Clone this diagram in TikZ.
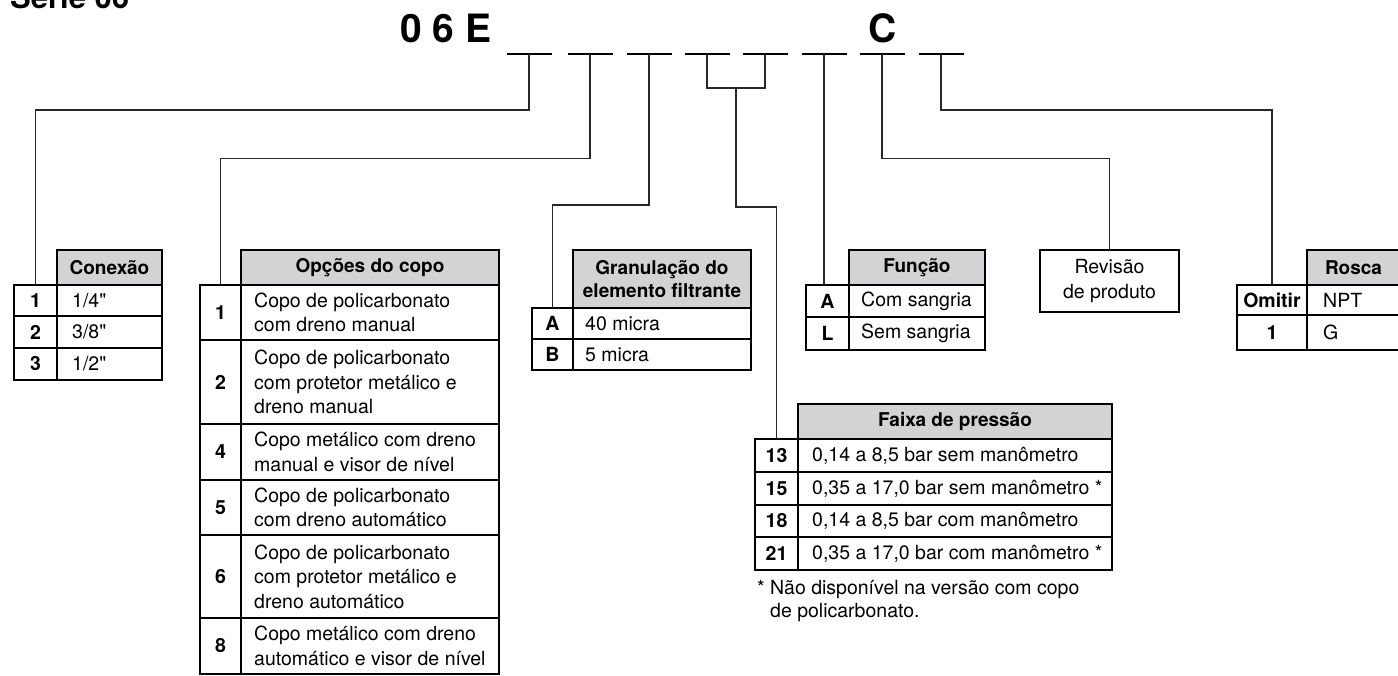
\documentclass[tikz,border=0pt]{standalone}
\usepackage{fontspec}
\setmainfont{TeX Gyre Heros}[Ligatures=TeXOff]
\usetikzlibrary{calc}
\definecolor{hdrgray}{RGB}{210,211,213}
\definecolor{linegray}{RGB}{40,40,40}
\newcommand\myhdrfont{\fontsize{19}{23}\selectfont\bfseries}
\newcommand\mylabfont{\fontsize{19.5}{24}\selectfont\bfseries}
\newcommand\mytxfont{\fontsize{19.5}{24.5}\selectfont}
\begin{document}
\begin{tikzpicture}[x=1pt,y=-1pt,
  conn/.style={line width=1.1pt, draw=linegray},
  dashbar/.style={line width=2.2pt, draw=black},
  frame/.style={line width=2.3pt, draw=black},
  cell/.style={anchor=north west, inner sep=0pt, outer sep=0pt, draw=black, line width=1.1pt},
  hdr/.style={cell, fill=hdrgray, line width=2.3pt, font=\myhdrfont, align=center},
  lab/.style={cell, font=\mylabfont},
  tx/.style={anchor=west, inner sep=0pt, align=left, font=\mytxfont},
]
\useasboundingbox (0,0) rectangle (1398,675);

% titles
\node[anchor=base west, inner sep=0pt, font=\fontsize{31}{31}\selectfont\bfseries] (serie) at (10,8) {Série 06};
\node[anchor=base west, inner sep=0pt, font=\fontsize{39}{39}\selectfont\bfseries] (code) at (400,42) {0 6 E};
\node[anchor=base west, inner sep=0pt, font=\fontsize{39}{39}\selectfont\bfseries] (codeC) at (868,42) {C};

% dash positions
\coordinate (d1) at (529,54);
\coordinate (d2) at (590,54);
\coordinate (d3) at (649,54);
\coordinate (d4) at (707,54);
\coordinate (d5) at (765,54);
\coordinate (d6) at (824,54);
\coordinate (d7) at (882,54);
\coordinate (d8) at (941,54);
\foreach \d in {d1,d2,d3,d4,d5,d6,d7,d8}
  \draw[dashbar] ($(\d)+(-22.5,0)$) -- ($(\d)+(22.5,0)$);

% bend levels
\coordinate (lvA) at (0,110);
\coordinate (lvB) at (0,158.5);
\coordinate (lvC) at (0,205);
\coordinate (lvD) at (0,88);
\coordinate (lvE) at (0,207);

% ---------- Conexao ----------
\node[hdr, minimum width=105pt, minimum height=35pt] (conH) at (57,250) {Conexão};
\node[lab, minimum width=43pt, minimum height=31pt] (con1L) at (14,285) {1};
\node[cell, minimum width=105pt, minimum height=31pt] (con1R) at (57,285) {};
\node[lab, minimum width=43pt, minimum height=32pt] (con2L) at (14,316) {2};
\node[cell, minimum width=105pt, minimum height=32pt] (con2R) at (57,316) {};
\node[lab, minimum width=43pt, minimum height=32pt] (con3L) at (14,348) {3};
\node[cell, minimum width=105pt, minimum height=32pt] (con3R) at (57,348) {};
\node[tx] (con1T) at ($(con1R.west)+(15,0)$) {1/4"};
\node[tx] (con2T) at ($(con2R.west)+(15,0)$) {3/8"};
\node[tx] (con3T) at ($(con3R.west)+(15,0)$) {1/2"};
\draw[frame] (con1L.north west) rectangle (con3R.south east);
\draw[frame] (con1R.north west) -- (con3R.south west);

% ---------- Opcoes do copo ----------
\node[hdr, minimum width=258pt, minimum height=35pt] (opH) at (241,250) {Opções do copo};
\node[lab, minimum width=41pt, minimum height=55pt] (op1L) at (200,285) {1};
\node[cell, minimum width=258pt, minimum height=55pt] (op1R) at (241,285) {};
\node[lab, minimum width=41pt, minimum height=84pt] (op2L) at (200,340) {2};
\node[cell, minimum width=258pt, minimum height=84pt] (op2R) at (241,340) {};
\node[lab, minimum width=41pt, minimum height=56pt] (op4L) at (200,424) {4};
\node[cell, minimum width=258pt, minimum height=56pt] (op4R) at (241,424) {};
\node[lab, minimum width=41pt, minimum height=55pt] (op5L) at (200,480) {5};
\node[cell, minimum width=258pt, minimum height=55pt] (op5R) at (241,480) {};
\node[lab, minimum width=41pt, minimum height=83pt] (op6L) at (200,535) {6};
\node[cell, minimum width=258pt, minimum height=83pt] (op6R) at (241,535) {};
\node[lab, minimum width=41pt, minimum height=56pt] (op8L) at (200,618) {8};
\node[cell, minimum width=258pt, minimum height=56pt] (op8R) at (241,618) {};
\node[tx] (op1T) at ($(op1R.west)+(13,0)$) {Copo de policarbonato\\com dreno manual};
\node[tx] (op2T) at ($(op2R.west)+(13,0)$) {Copo de policarbonato\\com protetor metálico e\\dreno manual};
\node[tx] (op4T) at ($(op4R.west)+(13,0)$) {Copo metálico com dreno\\manual e visor de nível};
\node[tx] (op5T) at ($(op5R.west)+(13,0)$) {Copo de policarbonato\\com dreno automático};
\node[tx] (op6T) at ($(op6R.west)+(13,0)$) {Copo de policarbonato\\com protetor metálico e\\dreno automático};
\node[tx] (op8T) at ($(op8R.west)+(13,0)$) {Copo metálico com dreno\\automático e visor de nível};
\draw[frame] (op1L.north west) rectangle (op8R.south east);
\draw[frame] (op1R.north west) -- (op8R.south west);

% ---------- Granulacao ----------
\node[hdr, minimum width=178pt, minimum height=58pt] (grH) at (573,250) {Granulação do\\elemento filtrante};
\node[lab, minimum width=41pt, minimum height=31pt] (gr1L) at (532,308) {A};
\node[cell, minimum width=178pt, minimum height=31pt] (gr1R) at (573,308) {};
\node[lab, minimum width=41pt, minimum height=31pt] (gr2L) at (532,339) {B};
\node[cell, minimum width=178pt, minimum height=31pt] (gr2R) at (573,339) {};
\node[tx] (gr1T) at ($(gr1R.west)+(12,0)$) {40 micra};
\node[tx] (gr2T) at ($(gr2R.west)+(12,0)$) {5 micra};
\draw[frame] (gr1L.north west) rectangle (gr2R.south east);
\draw[frame] (gr1R.north west) -- (gr2R.south west);

% ---------- Funcao ----------
\node[hdr, minimum width=136pt, minimum height=35pt] (fuH) at (849,250) {Função};
\node[lab, minimum width=43pt, minimum height=32pt] (fu1L) at (806,285) {A};
\node[cell, minimum width=136pt, minimum height=32pt] (fu1R) at (849,285) {};
\node[lab, minimum width=43pt, minimum height=33pt] (fu2L) at (806,317) {L};
\node[cell, minimum width=136pt, minimum height=33pt] (fu2R) at (849,317) {};
\node[tx] (fu1T) at ($(fu1R.west)+(12,0)$) {Com sangria};
\node[tx] (fu2T) at ($(fu2R.west)+(12,0)$) {Sem sangria};
\draw[frame] (fu1L.north west) rectangle (fu2R.south east);
\draw[frame] (fu1R.north west) -- (fu2R.south west);

% ---------- Revisao ----------
\node[cell, line width=2.3pt, minimum width=139pt, minimum height=62pt, align=center, font=\mytxfont] (rev) at (1040,250) {Revisão\\de produto};

% ---------- Rosca ----------
\node[hdr, minimum width=93pt, minimum height=35pt] (roH) at (1307,250) {Rosca};
\node[lab, minimum width=70pt, minimum height=30pt] (ro1L) at (1237,285) {Omitir};
\node[cell, minimum width=93pt, minimum height=30pt] (ro1R) at (1307,285) {};
\node[lab, minimum width=70pt, minimum height=35pt] (ro2L) at (1237,315) {1};
\node[cell, minimum width=93pt, minimum height=35pt] (ro2R) at (1307,315) {};
\node[tx] (ro1T) at ($(ro1R.west)+(16,0)$) {NPT};
\node[tx] (ro2T) at ($(ro2R.west)+(16,0)$) {G};
\draw[frame] (ro1L.north west) rectangle (ro2R.south east);
\draw[frame] (ro1R.north west) -- (ro2R.south west);

% ---------- Faixa de pressao ----------
\node[hdr, minimum width=314pt, minimum height=35pt] (faH) at (798,404) {Faixa de pressão};
\node[lab, minimum width=43pt, minimum height=33pt] (fa1L) at (755,439) {13};
\node[cell, minimum width=314pt, minimum height=33pt] (fa1R) at (798,439) {};
\node[lab, minimum width=43pt, minimum height=33pt] (fa2L) at (755,472) {15};
\node[cell, minimum width=314pt, minimum height=33pt] (fa2R) at (798,472) {};
\node[lab, minimum width=43pt, minimum height=32pt] (fa3L) at (755,505) {18};
\node[cell, minimum width=314pt, minimum height=32pt] (fa3R) at (798,505) {};
\node[lab, minimum width=43pt, minimum height=33pt] (fa4L) at (755,537) {21};
\node[cell, minimum width=314pt, minimum height=33pt] (fa4R) at (798,537) {};
\node[tx] (fa1T) at ($(fa1R.west)+(14,0)$) {0,14 a 8,5 bar sem manômetro};
\node[tx] (fa2T) at ($(fa2R.west)+(14,0)$) {0,35 a 17,0 bar sem manômetro *};
\node[tx] (fa3T) at ($(fa3R.west)+(14,0)$) {0,14 a 8,5 bar com manômetro};
\node[tx] (fa4T) at ($(fa4R.west)+(14,0)$) {0,35 a 17,0 bar com manômetro *};
\draw[frame] (fa1L.north west) rectangle (fa4R.south east);
\draw[frame] (fa1R.north west) -- (fa4R.south west);
\node[anchor=base west, inner sep=0pt, font=\mytxfont] (fn1) at (757,594) {* Não disponível na versão com copo};
\node[anchor=base west, inner sep=0pt, font=\mytxfont] (fn2) at (770,617) {de policarbonato.};

% ---------- connectors ----------
\draw[conn] (d1) -- (d1 |- lvA) -| (con1L.north);
\draw[conn] (d2) -- (d2 |- lvB) -| (op1L.north);
\draw[conn] (d3) -- (d3 |- lvC) -| (gr1L.north);
\draw[conn] (d4) -- (d4 |- lvD) -- (d5 |- lvD) -- (d5);
\coordinate (j45) at ($(d4 |- lvD)!0.5!(d5 |- lvD)$);
\draw[conn] (j45) -- (j45 |- lvE) -| (fa1L.north);
\draw[conn] (d6) -- (d6 |- fu1L.north);
\draw[conn] (d7) -- (d7 |- lvB) -| (rev.north);
\draw[conn] (d8) -- (d8 |- lvA) -| (ro1L.north);
\end{tikzpicture}
\end{document}
